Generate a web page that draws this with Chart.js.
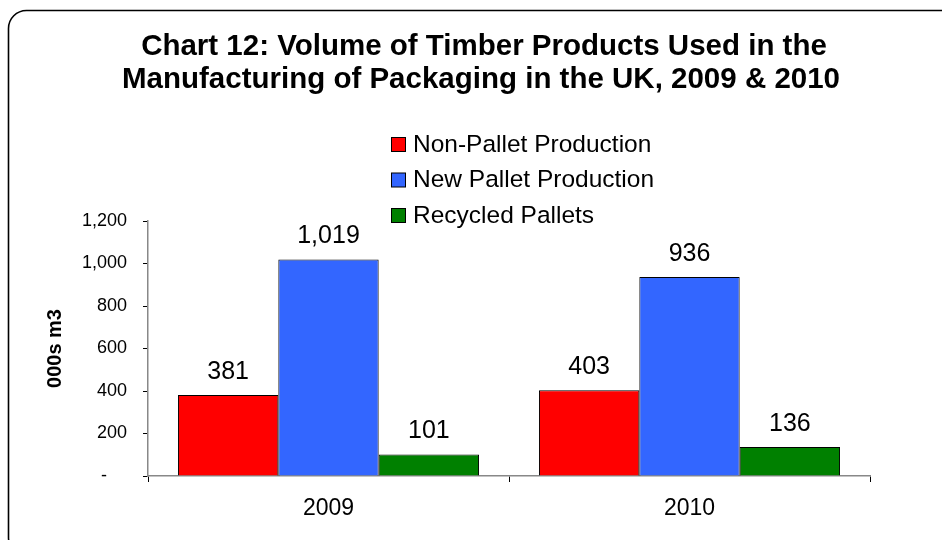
<!DOCTYPE html>
<html>
<head>
<meta charset="utf-8">
<script src="https://cdn.jsdelivr.net/npm/chart.js@4/dist/chart.umd.min.js"></script>
<style>
  html, body { margin: 0; padding: 0; background: #fff; }
  #wrap { width: 942px; height: 540px; }
</style>
</head>
<body>
<div id="wrap"><canvas id="c" width="942" height="540"></canvas></div>
<script>
// Volume of timber used in packaging manufacture (000s m3)
const years = ['2009', '2010'];
const seriesNames = ['Non-Pallet Production', 'New Pallet Production', 'Recycled Pallets'];
const nonPallet = [381, 403];
const newPallet = [1019, 936];
const recycled = [101, 136];
const seriesColours = ['#FF0000', '#3366FF', '#008000'];
const titleLines = [
  'Chart 12: Volume of Timber Products Used in the',
  'Manufacturing of Packaging in the UK, 2009 & 2010'
];
const yTitle = '000s m3';

const FONT = '"Liberation Sans", Arial, sans-serif';

// Rounded frame and two-line heading
const framePlugin = {
  id: 'frame',
  beforeDraw(chart) {
    const ctx = chart.ctx;
    ctx.save();
    ctx.fillStyle = '#fff';
    ctx.fillRect(0, 0, chart.width, chart.height);
    ctx.beginPath();
    ctx.roundRect(8.5, 10.5, 960, 545, 18);
    ctx.lineWidth = 1.6;
    ctx.strokeStyle = '#000';
    ctx.stroke();
    ctx.fillStyle = '#000';
    ctx.font = 'bold 29.5px ' + FONT;
    ctx.textAlign = 'center';
    ctx.textBaseline = 'middle';
    ctx.fillText(titleLines[0], 484, 47);
    ctx.fillText(titleLines[1], 481, 80);
    ctx.restore();
  }
};

// Stacked legend with square swatches
const legendPlugin = {
  id: 'boxLegend',
  afterDraw(chart) {
    const ctx = chart.ctx;
    ctx.save();
    ctx.font = '24.5px ' + FONT;
    ctx.textAlign = 'left';
    ctx.textBaseline = 'middle';
    chart.data.datasets.forEach((ds, i) => {
      const cy = 145 + i * 35.5;
      ctx.fillStyle = ds.backgroundColor;
      ctx.fillRect(391.5, cy - 7.5, 14, 14);
      ctx.lineWidth = 1;
      ctx.strokeStyle = '#000';
      ctx.strokeRect(391.5, cy - 7.5, 14, 14);
      ctx.fillStyle = '#000';
      ctx.fillText(ds.label, 413, cy);
    });
    ctx.restore();
  }
};

// Value labels above each bar
const valueLabels = {
  id: 'valueLabels',
  afterDatasetsDraw(chart) {
    const ctx = chart.ctx;
    ctx.save();
    ctx.font = '25px ' + FONT;
    ctx.fillStyle = '#000';
    ctx.textAlign = 'center';
    ctx.textBaseline = 'middle';
    chart.data.datasets.forEach((ds, i) => {
      chart.getDatasetMeta(i).data.forEach((bar, j) => {
        ctx.fillText(ds.data[j].toLocaleString('en-GB'), bar.x, bar.y - 23);
      });
    });
    ctx.restore();
  }
};

new Chart(document.getElementById('c'), {
  type: 'bar',
  data: {
    labels: years,
    datasets: [
      { label: seriesNames[0], data: nonPallet, backgroundColor: seriesColours[0] },
      { label: seriesNames[1], data: newPallet, backgroundColor: seriesColours[1] },
      { label: seriesNames[2], data: recycled, backgroundColor: seriesColours[2] }
    ].map(d => Object.assign(d, {
      borderColor: '#000', borderWidth: 1, borderSkipped: 'bottom',
      categoryPercentage: 0.834, barPercentage: 1.0
    }))
  },
  options: {
    responsive: false,
    animation: false,
    devicePixelRatio: 1,
    layout: { padding: { left: 22, right: 72, top: 221, bottom: 0 } },
    plugins: {
      legend: { display: false },
      title: { display: false },
      tooltip: { enabled: false }
    },
    scales: {
      x: {
        afterFit(s) { s.height = 64; },
        grid: { offset: true, drawOnChartArea: false, drawTicks: true, tickLength: 6, color: '#000', lineWidth: 1 },
        border: { display: true, color: '#888', width: 1.5 },
        ticks: { color: '#000', font: { family: FONT, size: 23 }, padding: 13 }
      },
      y: {
        min: 0, max: 1200,
        afterFit(s) { s.width = 126; },
        grid: { drawOnChartArea: false, drawTicks: true, tickLength: 5, color: '#000', lineWidth: 1 },
        border: { display: true, color: '#888', width: 1.5 },
        ticks: {
          stepSize: 200, color: '#000', padding: 16,
          font: { family: FONT, size: 18 },
          // accounting style: zero shown as an indented dash
          callback: v => v === 0 ? '-    ' : v.toLocaleString('en-GB')
        },
        title: {
          display: true, text: yTitle, color: '#000',
          font: { family: FONT, size: 20, weight: 'bold' },
          padding: { top: 21, bottom: 0 }
        }
      }
    }
  },
  plugins: [framePlugin, legendPlugin, valueLabels]
});
</script>
</body>
</html>
